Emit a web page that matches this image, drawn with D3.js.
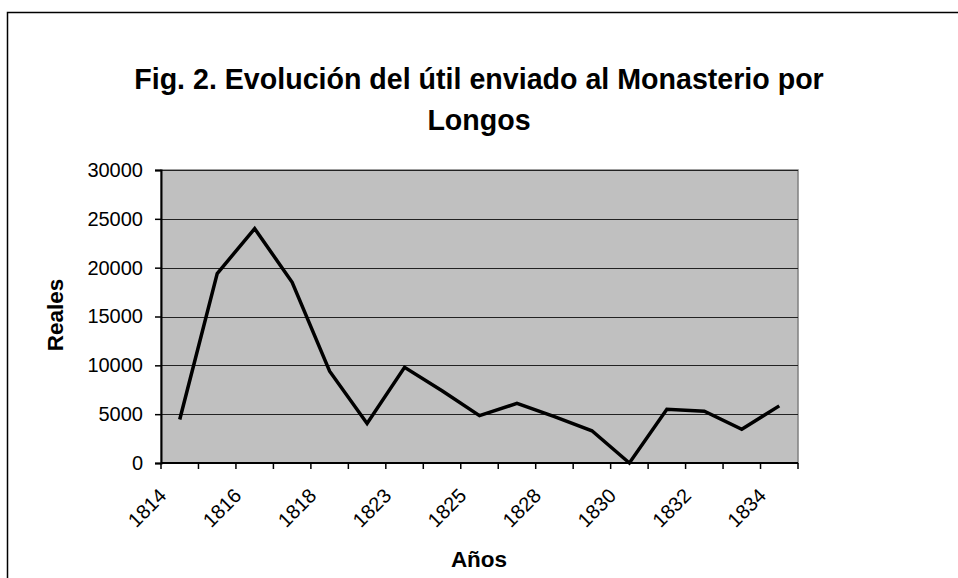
<!DOCTYPE html>
<html>
<head>
<meta charset="utf-8">
<script src="https://cdn.jsdelivr.net/npm/d3@7"></script>
<style>
  body { margin: 0; background: #ffffff; }
  svg { display: block; font-family: "Liberation Sans", Arial, sans-serif; }
</style>
</head>
<body>
<svg id="chart" width="958" height="578"></svg>
<script>
// data
var years = ["1814", "1815", "1816", "1817", "1818", "1819", "1823", "1824", "1825",
  "1826", "1828", "1829", "1830", "1831", "1832", "1833", "1834"];
var reales = [4450, 19400, 24000, 18500, 9400, 4050, 9800, 7400, 4850,
  6100, 4750, 3300, 0, 5500, 5300, 3450, 5850];
var shownYears = ["1814", "1816", "1818", "1823", "1825", "1828", "1830", "1832", "1834"];
var yTicks = [0, 5000, 10000, 15000, 20000, 25000, 30000];

var svg = d3.select("#chart");

const plot = {
  left: 161,
  right: 798,
  top: 170,
  bottom: 463
};

// outer frame (runs off the right and bottom of the picture)
svg.append("rect")
  .attr("x", 7.5)
  .attr("y", 12.5)
  .attr("width", 1000)
  .attr("height", 1000)
  .attr("fill", "none")
  .attr("stroke", "#000")
  .attr("stroke-width", 1.5);

var xScale = d3.scaleBand()
  .domain(years)
  .range([plot.left, plot.right]);

var yScale = d3.scaleLinear()
  .domain([0, 30000])
  .range([plot.bottom, plot.top]);

// plot area
svg.append("rect")
  .attr("x", plot.left)
  .attr("y", plot.top)
  .attr("width", plot.right - plot.left)
  .attr("height", plot.bottom - plot.top)
  .attr("fill", "#c0c0c0")
  .attr("stroke", "#808080")
  .attr("stroke-width", 1.5);

// gridlines
svg.append("g")
  .selectAll("line")
  .data(yTicks.filter(function(d) { return d > 0; }))
  .enter()
  .append("line")
  .attr("x1", plot.left)
  .attr("x2", plot.right)
  .attr("y1", function(d) { return Math.round(yScale(d)) + 0.5; })
  .attr("y2", function(d) { return Math.round(yScale(d)) + 0.5; })
  .attr("stroke", "#222")
  .attr("stroke-width", 1.2);

// y axis
var yAxis = d3.axisLeft(yScale)
  .tickValues(yTicks)
  .tickSize(6)
  .tickPadding(12)
  .tickFormat(d3.format("d"));

var yG = svg.append("g")
  .attr("transform", `translate(${plot.left},0)`)
  .call(yAxis);

yG.select(".domain").attr("stroke", "#000").attr("stroke-width", 2);
yG.selectAll(".tick line").attr("stroke", "#000").attr("stroke-width", 1.5);
yG.selectAll(".tick text")
  .attr("fill", "#000")
  .style("font-size", "20px");

// x axis: ticks between categories, labels on every second one
var xAxisLine = svg.append("g");

xAxisLine.append("line")
  .attr("x1", plot.left)
  .attr("x2", plot.right)
  .attr("y1", plot.bottom)
  .attr("y2", plot.bottom)
  .attr("stroke", "#000")
  .attr("stroke-width", 2);

var boundaries = years.map(function(d) { return xScale(d); }).concat([plot.right]);

xAxisLine.selectAll(".xtick")
  .data(boundaries)
  .enter()
  .append("line")
  .attr("class", "xtick")
  .attr("x1", function(d) { return d; })
  .attr("x2", function(d) { return d; })
  .attr("y1", plot.bottom)
  .attr("y2", plot.bottom + 6)
  .attr("stroke", "#000")
  .attr("stroke-width", 1.5);

xAxisLine.selectAll(".xlabel")
  .data(shownYears)
  .enter()
  .append("text")
  .attr("class", "xlabel")
  .attr("transform", function(d) {
    var cx = xScale(d) + xScale.bandwidth() / 2;
    return `translate(${cx - 12},497) rotate(-45)`;
  })
  .style("text-anchor", "end")
  .style("font-size", "20px")
  .text(function(d) { return d; });

// the series
var line = d3.line()
  .x(function(d, i) { return xScale(years[i]) + xScale.bandwidth() / 2; })
  .y(function(d) { return yScale(d); });

svg.append("path")
  .datum(reales)
  .attr("d", line)
  .attr("fill", "none")
  .attr("stroke", "#000")
  .attr("stroke-width", 3.5)
  .attr("stroke-linejoin", "miter");

// titles
var title = svg.append("text")
  .attr("x", 479)
  .attr("y", 89)
  .style("text-anchor", "middle")
  .style("font-size", "28.6px")
  .style("font-weight", "bold");

title.append("tspan")
  .attr("x", 479)
  .text("Fig. 2. Evolución del útil enviado al Monasterio por");
title.append("tspan")
  .attr("x", 479)
  .attr("dy", 41)
  .text("Longos");

svg.append("text")
  .attr("transform", "rotate(-90)")
  .attr("x", -315)
  .attr("y", 63)
  .style("text-anchor", "middle")
  .style("font-size", "22.5px")
  .style("font-weight", "bold")
  .text("Reales");

svg.append("text")
  .attr("x", 479)
  .attr("y", 567)
  .style("text-anchor", "middle")
  .style("font-size", "22.5px")
  .style("font-weight", "bold")
  .text("Años");
</script>
</body>
</html>
